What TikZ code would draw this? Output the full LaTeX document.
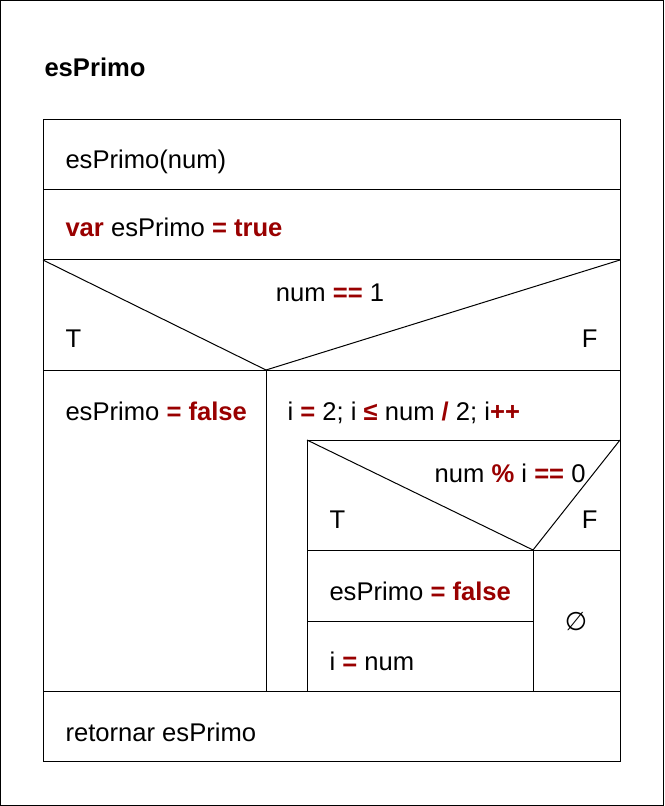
\documentclass[tikz,border=0pt]{standalone}
\usepackage{fontspec}
\setmainfont{Liberation Sans}
\newfontfamily\symfont{DejaVu Sans}
\usetikzlibrary{positioning}
\definecolor{kwred}{HTML}{990000}
\newcommand{\kw}[1]{\textcolor{kwred}{\textbf{#1}}}

\begin{document}
\begin{tikzpicture}[
    x=0.5pt, y=-0.5pt,
    line width=0.5pt,
    txt/.style={anchor=base west, inner sep=0pt, font=\fontsize{12.8}{15}\selectfont},
    txtr/.style={txt, anchor=base east},
    txtc/.style={txt, anchor=base}
]
\useasboundingbox (0,0) rectangle (664,806);
\draw (0.5,0.5) rectangle (663.5,805.5);

% title
\node[txt, font=\fontsize{12.8}{15}\selectfont\bfseries] (title) at (44,77) {esPrimo};

% outer box and rows
\draw (43,120) rectangle (620,761);
\draw (43,190) -- (620,190);
\draw (43,260) -- (620,260);
\draw (43,370) -- (620,370);
\draw (43,691) -- (620,691);
\node[txt] (head) at (65,169) {esPrimo(num)};
\node[txt] (init) at (65,237) {\kw{var} esPrimo \kw{=} \kw{true}};

% if num == 1
\draw (43,260) -- (266,370) -- (620,260);
\node[txtc] (cond) at (330,302) {num \kw{==} 1};
\node[txt] (condT) at (65,348) {T};
\node[txtr] (condF) at (598,348) {F};
\draw (266,370) -- (266,691);
\node[txt] (setF) at (65,420) {esPrimo \kw{=} \kw{false}};

% for loop
\node[txt] (loop) at (287,420) {i \kw{=} 2; i \textcolor{kwred}{\bfseries ≤} num \kw{/} 2; i\kw{++}};
\draw (307,691) -- (307,440) -- (620,440);

% inner if
\draw (307,440) -- (533,550) -- (620,440);
\draw (307,550) -- (620,550);
\node[txtr] (icond) at (586,482) {num \kw{\%} i \kw{==} 0};
\node[txt] (icondT) at (329,528) {T};
\node[txtr] (icondF) at (598,528) {F};
\draw (533,550) -- (533,691);
\draw (307,621) -- (533,621);
\node[txt] (isetF) at (329,600) {esPrimo \kw{=} \kw{false}};
\node[txt] (iset) at (329,670) {i \kw{=} num};
\node[inner sep=0pt, font=\fontsize{12.8}{15}\selectfont\symfont] (empty) at (576,622) {∅};

% return
\node[txt] (ret) at (65,741) {retornar esPrimo};
\end{tikzpicture}
\end{document}
